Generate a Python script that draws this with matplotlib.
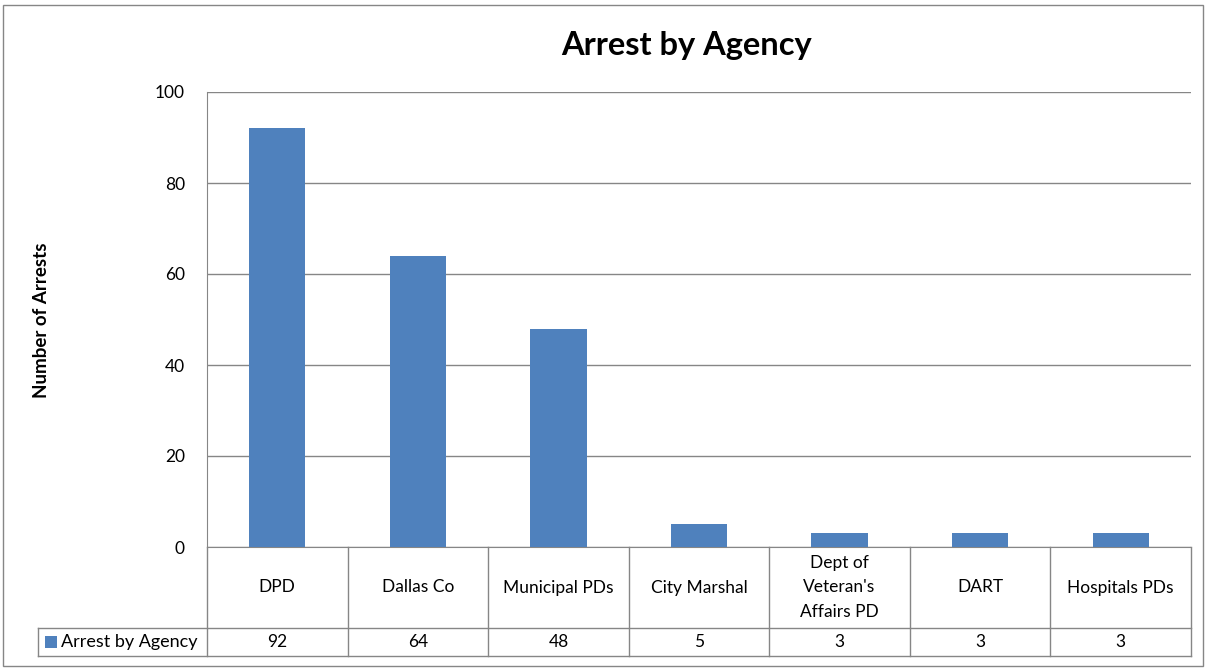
import matplotlib
matplotlib.use("Agg")
import matplotlib.pyplot as plt
from matplotlib.lines import Line2D
from matplotlib.patches import Rectangle

categories = ["DPD", "Dallas Co", "Municipal PDs", "City Marshal",
              "Dept of\nVeteran's\nAffairs PD", "DART", "Hospitals PDs"]
values = [92, 64, 48, 5, 3, 3, 3]
series_name = "Arrest by Agency"
yticks = [0, 20, 40, 60, 80, 100]

plt.rcParams['font.family'] = ['Lato', 'DejaVu Sans']
BAR = '#4F81BD'
GRID = '#868686'
FS = 12.5

fig = plt.figure(figsize=(12.07, 6.69), dpi=100)
W, H = 1207, 669
l, r, t, b = 207, 1191, 92, 547
ax = fig.add_axes([l / W, 1 - b / H, (r - l) / W, (b - t) / H])

x = list(range(len(categories)))
ax.bar(x, values, width=0.4, color=BAR, zorder=3)
ax.set_xlim(-0.5, len(categories) - 0.5)
ax.set_ylim(0, 100)
ax.set_yticks(yticks)
ax.set_yticklabels([str(v) for v in yticks], fontsize=FS)
ax.tick_params(axis='y', length=0, pad=16)
ax.set_xticks([])
ax.grid(axis='y', color=GRID, linewidth=1, zorder=0)
for s in ['top', 'right']:
    ax.spines[s].set_visible(False)
ax.spines['left'].set_color(GRID)
ax.spines['bottom'].set_color(GRID)
fig.text(42 / W, 1 - 320 / H, "Number of Arrests", rotation=90, ha='center',
         va='center', fontsize=13.5, fontweight='bold')

# data table
tr = ax.get_xaxis_transform()
row1 = -81 / (b - t)
row2 = -109 / (b - t)
colw = (r - l) / len(categories)
legx = -0.5 - (l - 38) / colw
lc = dict(color=GRID, linewidth=1, transform=tr, clip_on=False)
for i in range(len(categories) + 1):
    ax.add_line(Line2D([i - 0.5, i - 0.5], [0, row2], **lc))
ax.add_line(Line2D([legx, len(categories) - 0.5], [row1, row1], **lc))
ax.add_line(Line2D([legx, len(categories) - 0.5], [row2, row2], **lc))
ax.add_line(Line2D([legx, legx], [row1, row2], **lc))
for i, (c, v) in enumerate(zip(categories, values)):
    ax.text(i, row1 / 2, c, transform=tr, ha='center', va='center',
            fontsize=FS, linespacing=1.65)
    ax.text(i, (row1 + row2) / 2, str(v), transform=tr, ha='center',
            va='center', fontsize=FS)
mid = (row1 + row2) / 2
ax.add_patch(Rectangle((legx + 7 / colw, mid - 6 / (b - t)), 12 / colw, 12 / (b - t),
                       transform=tr, color=BAR, clip_on=False, linewidth=0))
ax.text(legx + 23 / colw, mid, series_name, transform=tr,
        ha='left', va='center', fontsize=13)

fig.text(687 / W, 1 - 45 / H, "Arrest by Agency", ha='center', va='center',
         fontsize=23.5, fontweight='bold')

# chart border
fig.add_artist(Rectangle((3 / W, 1 - 666 / H), 1200 / W, 661 / H,
                         transform=fig.transFigure, fill=False,
                         edgecolor=GRID, linewidth=1))

fig.savefig("out.png", dpi=100)
